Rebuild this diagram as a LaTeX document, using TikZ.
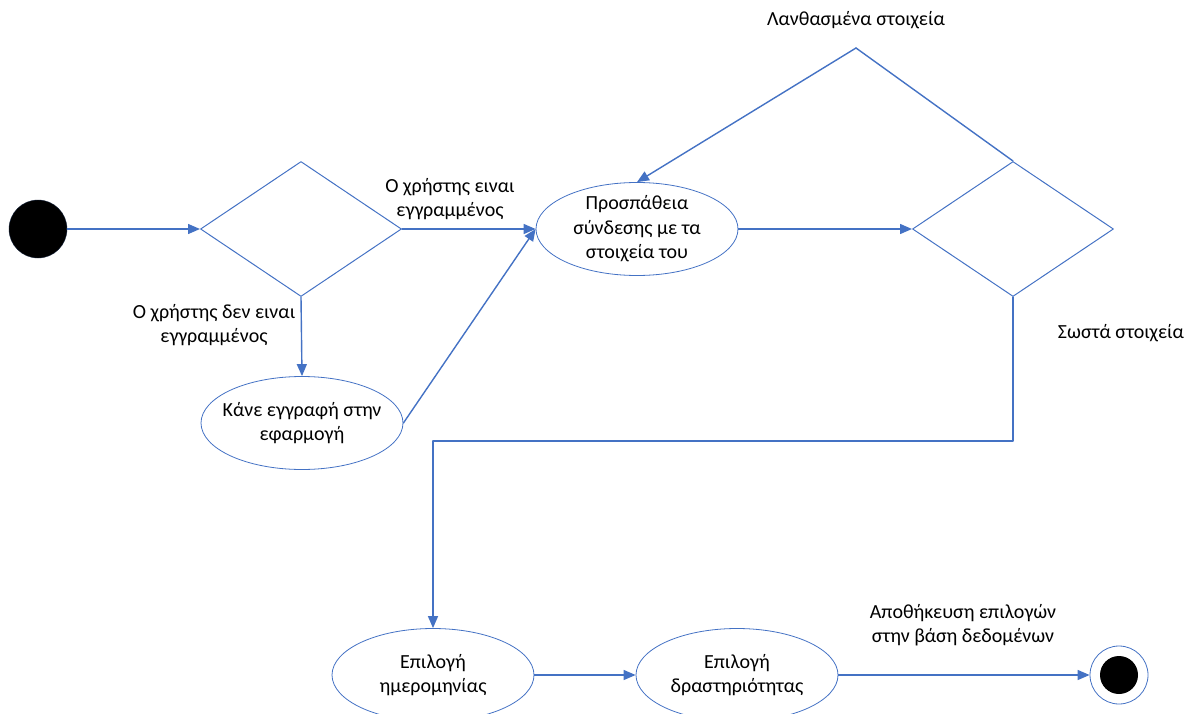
\documentclass[tikz,border=0pt]{standalone}
\usepackage{fontspec}
\setmainfont{Carlito}
\usetikzlibrary{shapes.geometric,arrows.meta}
\definecolor{umlblue}{HTML}{4472C4}

\begin{document}
\begin{tikzpicture}[x=1pt,y=-1pt,line cap=round,line join=round,
    every node/.style={font=\fontsize{20}{24.5}\selectfont,align=center},
    flow/.style={draw=umlblue,line width=1.4pt,-{Triangle[length=12pt,width=10pt]}},
    link/.style={draw=umlblue,line width=1.4pt},
    state/.style={ellipse,draw=umlblue,line width=0.8pt,minimum width=202pt,minimum height=93pt,inner sep=-18pt},
    choice/.style={diamond,draw=umlblue,line width=1pt,minimum width=201pt,minimum height=135pt,inner sep=0pt}]
  \clip (0,0) rectangle (1193,714);
  % start and end points
  \node[circle,fill=black,draw=umlblue!30!black,minimum size=58pt,inner sep=0pt] (start) at (38,229) {};
  \node[circle,draw=umlblue,line width=0.8pt,minimum size=58pt,inner sep=0pt] (finish) at (1119,675) {};
  \node[circle,fill=black,minimum size=38pt,inner sep=0pt] (finishin) at (finish) {};
  % decisions
  \node[choice] (registered) at (301,229) {};
  \node[choice] (check) at (1013,229) {};
  % states
  \node[state] (login) at (637,229) {Προσπάθεια\\σύνδεσης με τα\\στοιχεία του};
  \node[state] (signup) at (302,423) {Κάνε εγγραφή στην\\εφαρμογή};
  \node[state] (date) at (433,675) {Επιλογή\\ημερομηνίας};
  \node[state] (activity) at (737,675) {Επιλογή\\δραστηριότητας};
  % labels
  \node (lblyes) at (450,199) {Ο χρήστης ειναι\\εγγραμμένος};
  \node (lblno) at (214,325) {Ο χρήστης δεν ειναι\\εγγραμμένος};
  \node (lblwrong) at (856,20) {Λανθασμένα στοιχεία};
  \node (lblright) at (1121,333) {Σωστά στοιχεία};
  \node (lblsave) at (963,625) {Αποθήκευση επιλογών\\στην βάση δεδομένων};
  % connectors
  \coordinate (wrong) at (856,48);
  \coordinate (bend) at (433,441);
  \draw[flow] (start) -- (registered.west);
  \draw[flow] (registered.east) -- (login.west);
  \draw[flow] (registered.south) -- (signup.north);
  \draw[flow] (signup.east) -- (login.west);
  \draw[flow] (login.east) -- (check.west);
  \draw[link] (check.north) -- (wrong);
  \draw[flow] (wrong) -- (login.north);
  \draw[link] (check.south) |- (bend);
  \draw[flow] (bend) -- (date.north);
  \draw[flow] (date.east) -- (activity.west);
  \draw[flow] (activity.east) -- (finish.west);
\end{tikzpicture}
\end{document}
